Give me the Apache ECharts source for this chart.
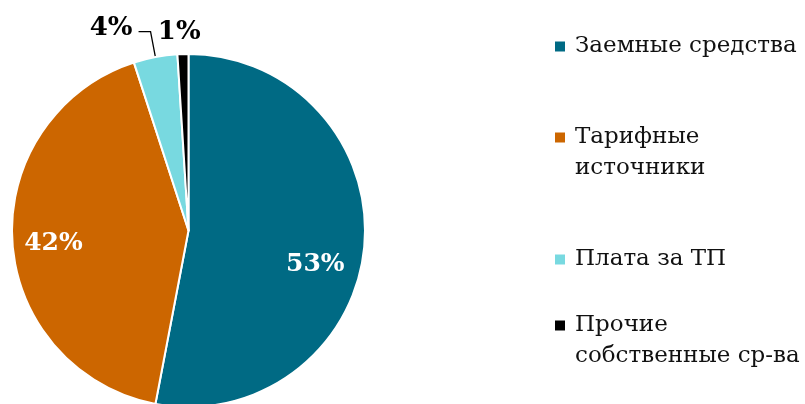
<!DOCTYPE html>
<html>
<head>
<meta charset="utf-8">
<script src="https://cdn.jsdelivr.net/npm/echarts@6/dist/echarts.min.js"></script>
<style>
html,body{margin:0;padding:0;background:#fff;}
#c{width:805px;height:404px;}
</style>
</head>
<body>
<div id="c"></div>
<script>
const categories = ['Заемные средства', 'Тарифные\nисточники', 'Плата за ТП', 'Прочие\nсобственные ср-ва'];
const values = [53, 42, 4, 1];
const colors = ['#006A84', '#CC6600', '#78D9E0', '#000000'];

const FONT = 'DejaVu Serif';
const chart = echarts.init(document.getElementById('c'), null, {renderer: 'canvas'});

// label offsets from default position (dataIndex order)
const labelShift = [
  {dx: 36, dy: 25},
  {dx: -44, dy: 7},
  {dy: -3},
  {dx: 23, dy: -12}
];

// Legend: one legend component per item so spacing can follow the reference
const legendTops = [31, 122, 244, 310];
const twoLineIcon = 'path://M0,0H12V12H0Z M0,43H0.01Z';
const legends = categories.map((name, i) => {
  const twoLine = name.indexOf('\n') >= 0;
  return {
    left: 553,
    top: legendTops[i],
    padding: 0,
    orient: 'vertical',
    data: [{name: name, icon: twoLine ? twoLineIcon : 'rect'}],
    itemWidth: 12,
    itemHeight: twoLine ? 43 : 12,
    itemGap: 0,
    selectedMode: false,
    textStyle: {fontFamily: FONT, fontSize: 23, color: '#111', lineHeight: 31, padding: [0, 0, 0, 4]}
  };
});

chart.setOption({
  animation: false,
  color: colors,
  legend: legends,
  series: [{
    type: 'pie',
    center: [188.5, 230.5],
    radius: [0, 176.5],
    startAngle: 90,
    clockwise: true,
    avoidLabelOverlap: false,
    itemStyle: {borderColor: '#fff', borderWidth: 2},
    label: {
      show: true,
      position: 'inside',
      formatter: '{d}%',
      fontFamily: FONT,
      fontWeight: 'bold',
      fontSize: 25,
      color: '#fff'
    },
    labelLine: {show: false},
    labelLayout: function (p) { return labelShift[p.dataIndex]; },
    data: categories.map((name, i) => {
      const d = {name: name, value: values[i]};
      if (i === 2) {
        d.label = {position: 'outside', color: '#000', distanceToLabelLine: 6, fontSize: 26};
        d.labelLine = {show: true, length: 26, length2: 12, lineStyle: {color: '#000', width: 1.3}};
      } else if (i === 3) {
        d.label = {position: 'outside', color: '#000', fontSize: 26};
        d.labelLine = {show: false, length: 10, length2: 0};
      }
      return d;
    })
  }]
});
</script>
</body>
</html>
